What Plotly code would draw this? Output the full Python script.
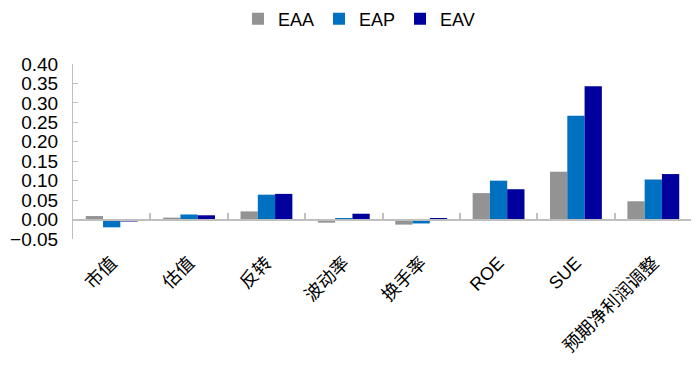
import plotly.graph_objects as go

categories = ["市值", "估值", "反转", "波动率", "换手率", "ROE", "SUE", "预期净利润调整"]
eaa = [0.009, 0.005, 0.021, -0.008, -0.013, 0.068, 0.123, 0.047]
eap = [-0.020, 0.013, 0.064, 0.003, -0.010, 0.100, 0.267, 0.103]
eav = [-0.005, 0.011, 0.066, 0.015, 0.003, 0.078, 0.343, 0.117]
series_names = ["EAA", "EAP", "EAV"]
colors = ["#939393", "#0070C0", "#00009C"]
y_ticks = [-0.05, 0.0, 0.05, 0.10, 0.15, 0.20, 0.25, 0.30, 0.35, 0.40]


def label_html(c):
    if c.isascii():
        return "<span style='font-family:Liberation Sans;font-size:18px'>%s</span>" % c
    return "<span style='font-family:Noto Sans CJK SC;font-size:18px'>%s</span>" % c


tick_text = [label_html(c) for c in categories]

fig = go.Figure()
for name, vals, c in zip(series_names, [eaa, eap, eav], colors):
    fig.add_trace(go.Bar(x=categories, y=vals, name=name, marker=dict(color=c, line=dict(width=0))))

# invisible trace to drive the zero-line category axis
fig.add_trace(go.Scatter(x=categories, y=[0] * len(categories), xaxis="x2", mode="markers",
                         marker=dict(opacity=0), showlegend=False, hoverinfo="skip"))

axis_gray = "#BFBFBF"
fig.update_layout(
    width=699, height=378,
    margin=dict(l=65, r=15, t=56, b=147, autoexpand=False),
    paper_bgcolor="white", plot_bgcolor="white",
    barmode="group", bargap=0.33, bargroupgap=0,
    font=dict(family="Liberation Sans, Arial, sans-serif", color="black"),
    legend=dict(orientation="h", x=0.462, xanchor="center", y=0.971, yanchor="middle",
                yref="container", font=dict(size=18), itemwidth=30,
                tracegroupgap=0, itemclick=False),
    xaxis=dict(type="category", categoryorder="array", categoryarray=categories,
               tickvals=categories, ticktext=tick_text,
               showline=False, ticks="", showgrid=False,
               tickangle=-45, tickfont=dict(size=18, color="black"),
               ticklabelstandoff=9),
    xaxis2=dict(type="category", categoryorder="array", categoryarray=categories,
                overlaying="x", matches="x", anchor="free", position=1/9,
                showline=True, linecolor=axis_gray, linewidth=2,
                ticks="inside", tickson="boundaries", ticklen=6, tickcolor=axis_gray, tickwidth=2,
                showticklabels=False, showgrid=False),
    yaxis=dict(range=[-0.05, 0.40], tickvals=y_ticks, tickformat=".2f",
               showline=True, linecolor=axis_gray, linewidth=1,
               ticks="inside", ticklen=5, tickcolor=axis_gray,
               showgrid=False, zeroline=False, tickfont=dict(size=19),
               ticklabelstandoff=10),
)

fig.write_html("out.html")
